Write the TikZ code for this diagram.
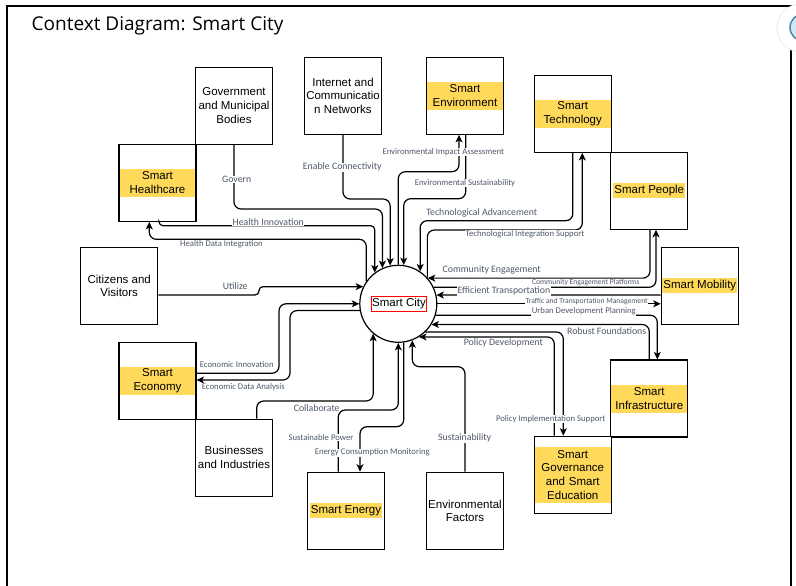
\documentclass[tikz,border=0pt]{standalone}
\usepackage{fontspec}
\setmainfont{Liberation Sans}
\newfontfamily\lblfont{Carlito}
\newfontfamily\titlefont{Open Sans}
\usetikzlibrary{arrows.meta}
\definecolor{hlyellow}{HTML}{FFD95A}
\definecolor{lblgray}{HTML}{4F5969}
\definecolor{iconring}{HTML}{4A86A8}
\definecolor{iconfill}{HTML}{CFE7F1}
\begin{document}
\begin{tikzpicture}[x=1pt,y=-1pt,
  ent/.style={draw, fill=white, line width=1.2pt, minimum width=77pt, minimum height=77pt, inner sep=0pt, align=center, font=\fontsize{11.5}{13.8}\selectfont},
  band/.style={fill=hlyellow, text width=73.8pt, inner xsep=1pt, inner ysep=0pt, align=center, font=\fontsize{11.5}{13.8}\selectfont},
  hl/.style={fill=hlyellow, inner xsep=1.2pt, inner ysep=0pt, minimum height=14.7pt, font=\fontsize{11.5}{13.8}\selectfont},
  conn/.style={line width=1.2pt, rounded corners=7pt},
  arr/.style={conn, -{Stealth[length=7.5pt,width=7pt,inset=2pt]}},
  lab/.style={fill=white, inner sep=0.4pt, text=lblgray, font=\lblfont\fontsize{9.8}{11}\selectfont},
  labs/.style={lab, font=\lblfont\fontsize{8.7}{10}\selectfont},
  labt/.style={lab, font=\lblfont\fontsize{7.6}{9}\selectfont},
]
\useasboundingbox (0,0) rectangle (796,586);
% frame
\draw[line width=1.2pt] (7,600) -- (7,6) -- (791,6) -- (791,600);
% floating icon
\fill[black!8] (801,28) circle (24.5pt);
\fill[white] (801,28) circle (23.5pt);
\fill[iconfill] (803.5,27.5) circle (13pt);
\draw[iconring, line width=1.5pt] (803.5,27.5) circle (13.5pt);
% title
\node[anchor=base west, font=\titlefont\fontsize{19}{22}\selectfont, inner sep=0pt] (title) at (31.5,30.5) {Context Diagram: Smart City};

% entities
\node[ent] (gov) at (234,105.8) {Government\\and Municipal\\Bodies};
\node[ent] (heal) at (157.5,182.8) {};
\node[band, minimum height=27.7pt] (healT) at (heal) {Smart\\Healthcare};
\node[ent] (inet) at (343,95.7) {Internet and\\Communicatio\\n Networks};
\node[ent] (env) at (465,95.8) {};
\node[band, minimum height=28pt] (envT) at (env) {Smart\\Environment};
\node[ent] (tech) at (572.8,113.8) {};
\node[band, minimum height=28pt] (techT) at (tech) {Smart\\Technology};
\node[ent] (ppl) at (649.3,190.7) {};
\node[hl] (pplT) at (ppl) {Smart People};
\node[ent] (mob) at (699.8,285.8) {};
\node[hl] (mobT) at (mob) {Smart Mobility};
\node[ent] (infra) at (649.3,398.5) {};
\node[band, minimum height=28pt] (infraT) at (infra) {Smart\\Infrastructure};
\node[ent] (gove) at (572.8,474.8) {};
\node[band, minimum height=56pt] (goveT) at (gove) {Smart\\Governance\\and Smart\\Education};
\node[ent] (envf) at (465,510.8) {Environmental\\Factors};
\node[ent] (enrg) at (346,510.8) {};
\node[hl] (enrgT) at (enrg) {Smart Energy};
\node[ent] (biz) at (234,457.7) {Businesses\\and Industries};
\node[ent] (econ) at (157.5,380.8) {};
\node[band, minimum height=28pt] (econT) at (econ) {Smart\\Economy};
\node[ent] (cit) at (119.2,285.8) {Citizens and\\Visitors};

% center
\node[draw, circle, line width=1.2pt, minimum size=77pt, inner sep=0pt, fill=white] (city) at (398.3,303.8) {};
\node[draw=red, line width=0.8pt, inner xsep=0.8pt, inner ysep=0pt, minimum height=15.7pt, font=\fontsize{11.5}{13.8}\selectfont] (cityT) at (399,303.9) {Smart City};

% connectors
\draw[arr] (gov.south) -- (gov.south |- 0,209) -| (city.114.7);
\draw[arr] (inet.south) -- (inet.south |- 0,199) -| (city.102.9);
\draw[arr, rounded corners=4pt] (heal.south -| 159,0) -- (159,225.7) -| (city.127.4);
\draw[arr] (city.145.9) |- (149.3,239.3) -- (heal.south -| 149.3,0);
\draw[arr] (city.90) |- (459,171.7) -- (env.south -| 459,0);
\draw[arr] (env.south -| 465.7,0) -- (465.7,198.7) -| (city.82.2);
\draw[arr] (tech.south) -- (tech.south |- 0,220.7) -| (city.56.9);
\draw[arr] (city.42.6) |- (582.3,230) -- (tech.south -| 582.3,0);
\draw[arr] (ppl.south -| 650,0) |- (city.41.8);
\draw[arr] (city.25.9) -| (ppl.south -| 656,0);
\draw[arr] (mob.west |- 0,295) -- (city.13);
\draw[arr] (city.east) -- (mob.west |- city.east);
\draw[arr] (city.343.4) -| (infra.north -| 657.3,0);
\draw[arr] (infra.north) |- (city.328.4);
\draw[arr] (city.314.6) -| (gove.north -| 563.3,0);
\draw[arr] (gove.north -| 554.3,0) |- (city.302.8);
\draw[arr] (envf.north) -- (envf.north |- 0,366.7) -| (city.291.6);
\draw[arr] (enrg.north -| 338.3,0) -- (338.3,410) -| (city.south);
\draw[arr] (city.278.4) |- (360,426.7) -- (enrg.north -| 360,0);
\draw[arr] (biz.north -| 256.7,0) -- (256.7,401) -| (city.230.3);
\draw[arr, rounded corners=4pt] (cit.east |- 0,295) -- (259,295) |- (city.154.1);
\draw[arr] (econ.east |- 0,373.3) -| (city.west -| 279,0) -- (city.west);
\draw[arr] (city.190.1) -| (290,380) -- (econ.east |- 0,380);

% connector labels
\node[lab] (lGov) at (236.7,179.8) {Govern};
\node[lab] (lEnable) at (342.3,167.3) {Enable Connectivity};
\node[lab] (lHI) at (268.3,222) {Health Innovation};
\node[labs] (lHDI) at (221.5,244.2) {Health Data Integration};
\node[labs] (lEIA) at (443.3,151.7) {Environmental Impact Assessment};
\node[labs] (lES) at (465,182.7) {Environmental Sustainability};
\node[lab] (lTA) at (481.7,213.3) {Technological Advancement};
\node[labs] (lTIS) at (525,234.3) {Technological Integration Support};
\node[lab] (lCE) at (491.7,270) {Community Engagement};
\node[labt] (lCEP) at (585.7,282.3) {Community Engagement Platforms};
\node[lab] (lET) at (504,291) {Efficient Transportation};
\node[labt] (lTTM) at (586.7,301.7) {Traffic and Transportation Management};
\node[labs] (lUDP) at (583.8,311.7) {Urban Development Planning};
\node[lab] (lRF) at (606.7,331) {Robust Foundations};
\node[lab] (lPD) at (503.3,342.7) {Policy Development};
\node[labs] (lPIS) at (550.7,419) {Policy Implementation Support};
\node[lab] (lSus) at (464.7,438.3) {Sustainability};
\node[labs] (lSP) at (321,437.3) {Sustainable Power};
\node[labs] (lECM) at (372.3,452.7) {Energy Consumption Monitoring};
\node[lab] (lCol) at (316.7,408.3) {Collaborate};
\node[labs] (lEI) at (236.7,364.3) {Economic Innovation};
\node[labs] (lEDA) at (243.3,386.7) {Economic Data Analysis};
\node[lab] (lUt) at (235.2,286) {Utilize};
\end{tikzpicture}
\end{document}
